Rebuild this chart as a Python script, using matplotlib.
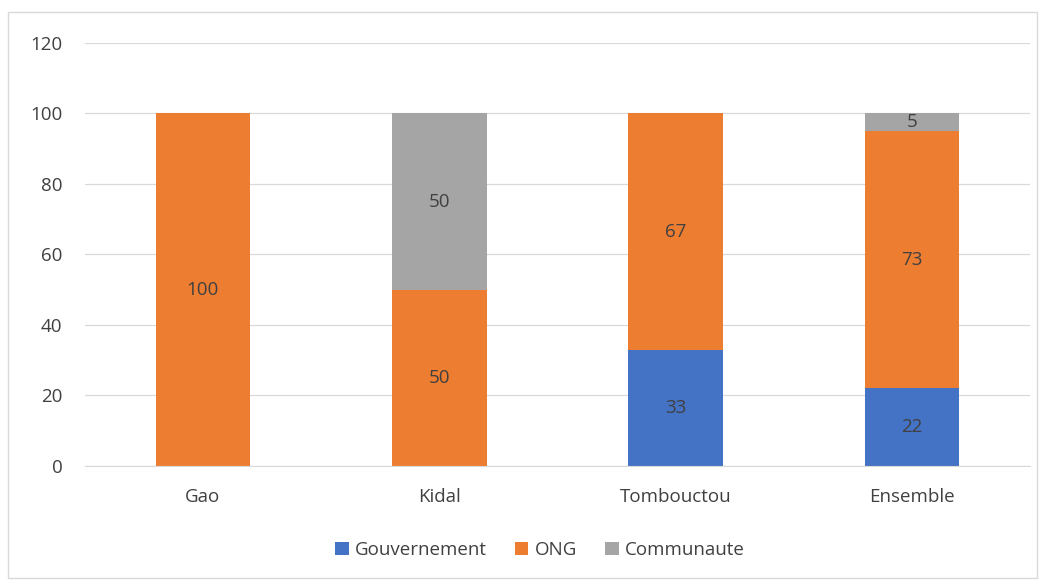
import numpy as np
import matplotlib.pyplot as plt
from matplotlib.patches import Rectangle

# --- Data ---------------------------------------------------------------
regions = ["Gao", "Kidal", "Tombouctou", "Ensemble"]
gouvernement = [0, 0, 33, 22]
ong = [100, 50, 67, 73]
communaute = [0, 50, 0, 5]

series = [("Gouvernement", gouvernement, "#4472C4"),
          ("ONG", ong, "#ED7D31"),
          ("Communaute", communaute, "#A5A5A5")]

plt.rcParams["font.family"] = ["Open Sans", "DejaVu Sans"]
TXT = "#404040"
FS = 13.5

fig = plt.figure(figsize=(10.45, 5.81), dpi=100)
ax = fig.add_axes([0.081, 0.198, 0.905, 0.728])

x = np.arange(len(regions))
bottom = np.zeros(len(regions))
for name, vals, col in series:
    vals = np.array(vals, dtype=float)
    bars = ax.bar(x, vals, width=0.4, bottom=bottom, color=col, label=name,
                  zorder=2)
    for b, v, b0 in zip(bars, vals, bottom):
        if v > 0:
            ax.text(b.get_x() + b.get_width() / 2, b0 + v / 2, f"{v:.0f}",
                    ha="center", va="center", fontsize=FS, color=TXT)
    bottom += vals

ax.set_ylim(0, 120)
ax.set_yticks(range(0, 121, 20))
ax.set_xlim(-0.5, len(regions) - 0.5)
ax.set_xticks(x, regions)
ax.grid(axis="y", color="#D9D9D9", linewidth=0.9, zorder=0)
for s in ["top", "right", "left"]:
    ax.spines[s].set_visible(False)
ax.spines["bottom"].set_color("#D9D9D9")
ax.tick_params(length=0, labelsize=FS, labelcolor=TXT)
ax.tick_params(axis="x", pad=16)
ax.tick_params(axis="y", pad=16)

fig.legend(loc="center", bbox_to_anchor=(0.517, 0.053), ncol=3, frameon=False,
           fontsize=FS, handlelength=0.7, handleheight=0.7, columnspacing=1.5,
           handletextpad=0.35, labelcolor=TXT)

fig.patches.append(Rectangle((0.008, 0.005), 0.984, 0.974,
                             transform=fig.transFigure, fill=False,
                             edgecolor="#D9D9D9", linewidth=1))

fig.savefig("out.png", dpi=100, facecolor="white")
